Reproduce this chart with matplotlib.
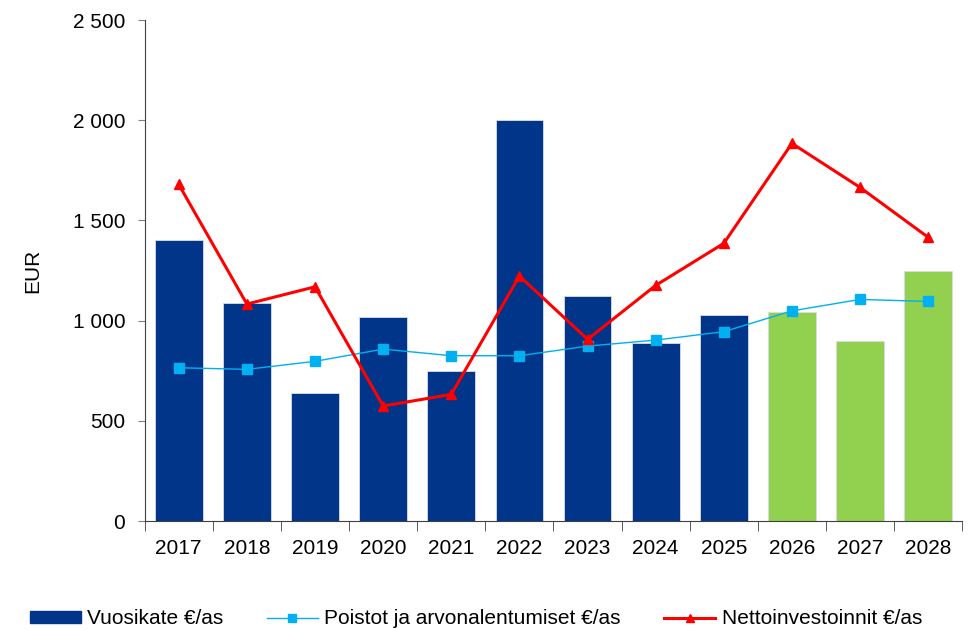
import numpy as np
import matplotlib.pyplot as plt
from matplotlib.ticker import FuncFormatter, FixedLocator
from matplotlib.patches import Patch
from matplotlib.lines import Line2D

plt.rcParams['font.family'] = ['Liberation Sans', 'DejaVu Sans']

years = ['2017', '2018', '2019', '2020', '2021', '2022', '2023', '2024',
         '2025', '2026', '2027', '2028']
vuosikate = [1402, 1088, 639, 1018, 749, 2000, 1123, 888, 1028, 1044, 897, 1249]
poistot = [765, 757, 797, 858, 825, 825, 873, 903, 945, 1049, 1106, 1096]
netto = [1680, 1083, 1169, 574, 632, 1223, 907, 1176, 1386, 1885, 1665, 1416]
n_actual = 9  # 2017-2025 toteutunut, loput suunnitelma

navy = '#003589'
green = '#92d050'
light = '#00b0f0'
red = '#ff0000'

x = np.arange(len(years))
colors = [navy] * n_actual + [green] * (len(years) - n_actual)

fig = plt.figure(figsize=(9.71, 6.3), dpi=100)
ax = fig.add_axes([0.149, 0.173, 0.842, 0.795])

ax.bar(x, vuosikate, width=0.7, color=colors, edgecolor='#d9dde8', linewidth=0.6, zorder=2)
ax.plot(x, poistot, color=light, lw=1, marker='s', ms=6.5, zorder=3)
ax.plot(x, netto, color=red, lw=2.2, marker='^', ms=6.5, zorder=4)

ax.set_xlim(-0.5, len(years) - 0.5)
ax.set_ylim(0, 2500)
ax.set_yticks(np.arange(0, 2501, 500))
ax.yaxis.set_major_formatter(FuncFormatter(lambda v, p: f'{int(v):,}'.replace(',', ' ')))
ax.set_ylabel('EUR', fontsize=15, labelpad=22)

ax.set_xticks(x)
ax.set_xticklabels(years)
ax.xaxis.set_minor_locator(FixedLocator(np.arange(-0.5, len(years), 1)))
ax.tick_params(axis='x', which='major', length=0, pad=13, labelsize=15)
ax.tick_params(axis='x', which='minor', length=7, color='#404040')
ax.tick_params(axis='y', length=5, color='#808080', labelsize=15, pad=9)

for s in ['top', 'right']:
    ax.spines[s].set_visible(False)
ax.spines['left'].set_color('#404040')
ax.spines['bottom'].set_color('#404040')

handles = [
    Patch(color=navy, label='Vuosikate €/as'),
    Line2D([0], [0], color=light, lw=1, marker='s', ms=6, label='Poistot ja arvonalentumiset €/as'),
    Line2D([0], [0], color=red, lw=2.2, marker='^', ms=6, label='Nettoinvestoinnit €/as'),
]
fig.legend(handles=handles, loc='center', bbox_to_anchor=(0.49, 0.0175), ncol=3,
           frameon=False, fontsize=15, handlelength=2.45, handleheight=0.55,
           columnspacing=2.1, handletextpad=0.3)

fig.savefig('out.png', dpi=100)
